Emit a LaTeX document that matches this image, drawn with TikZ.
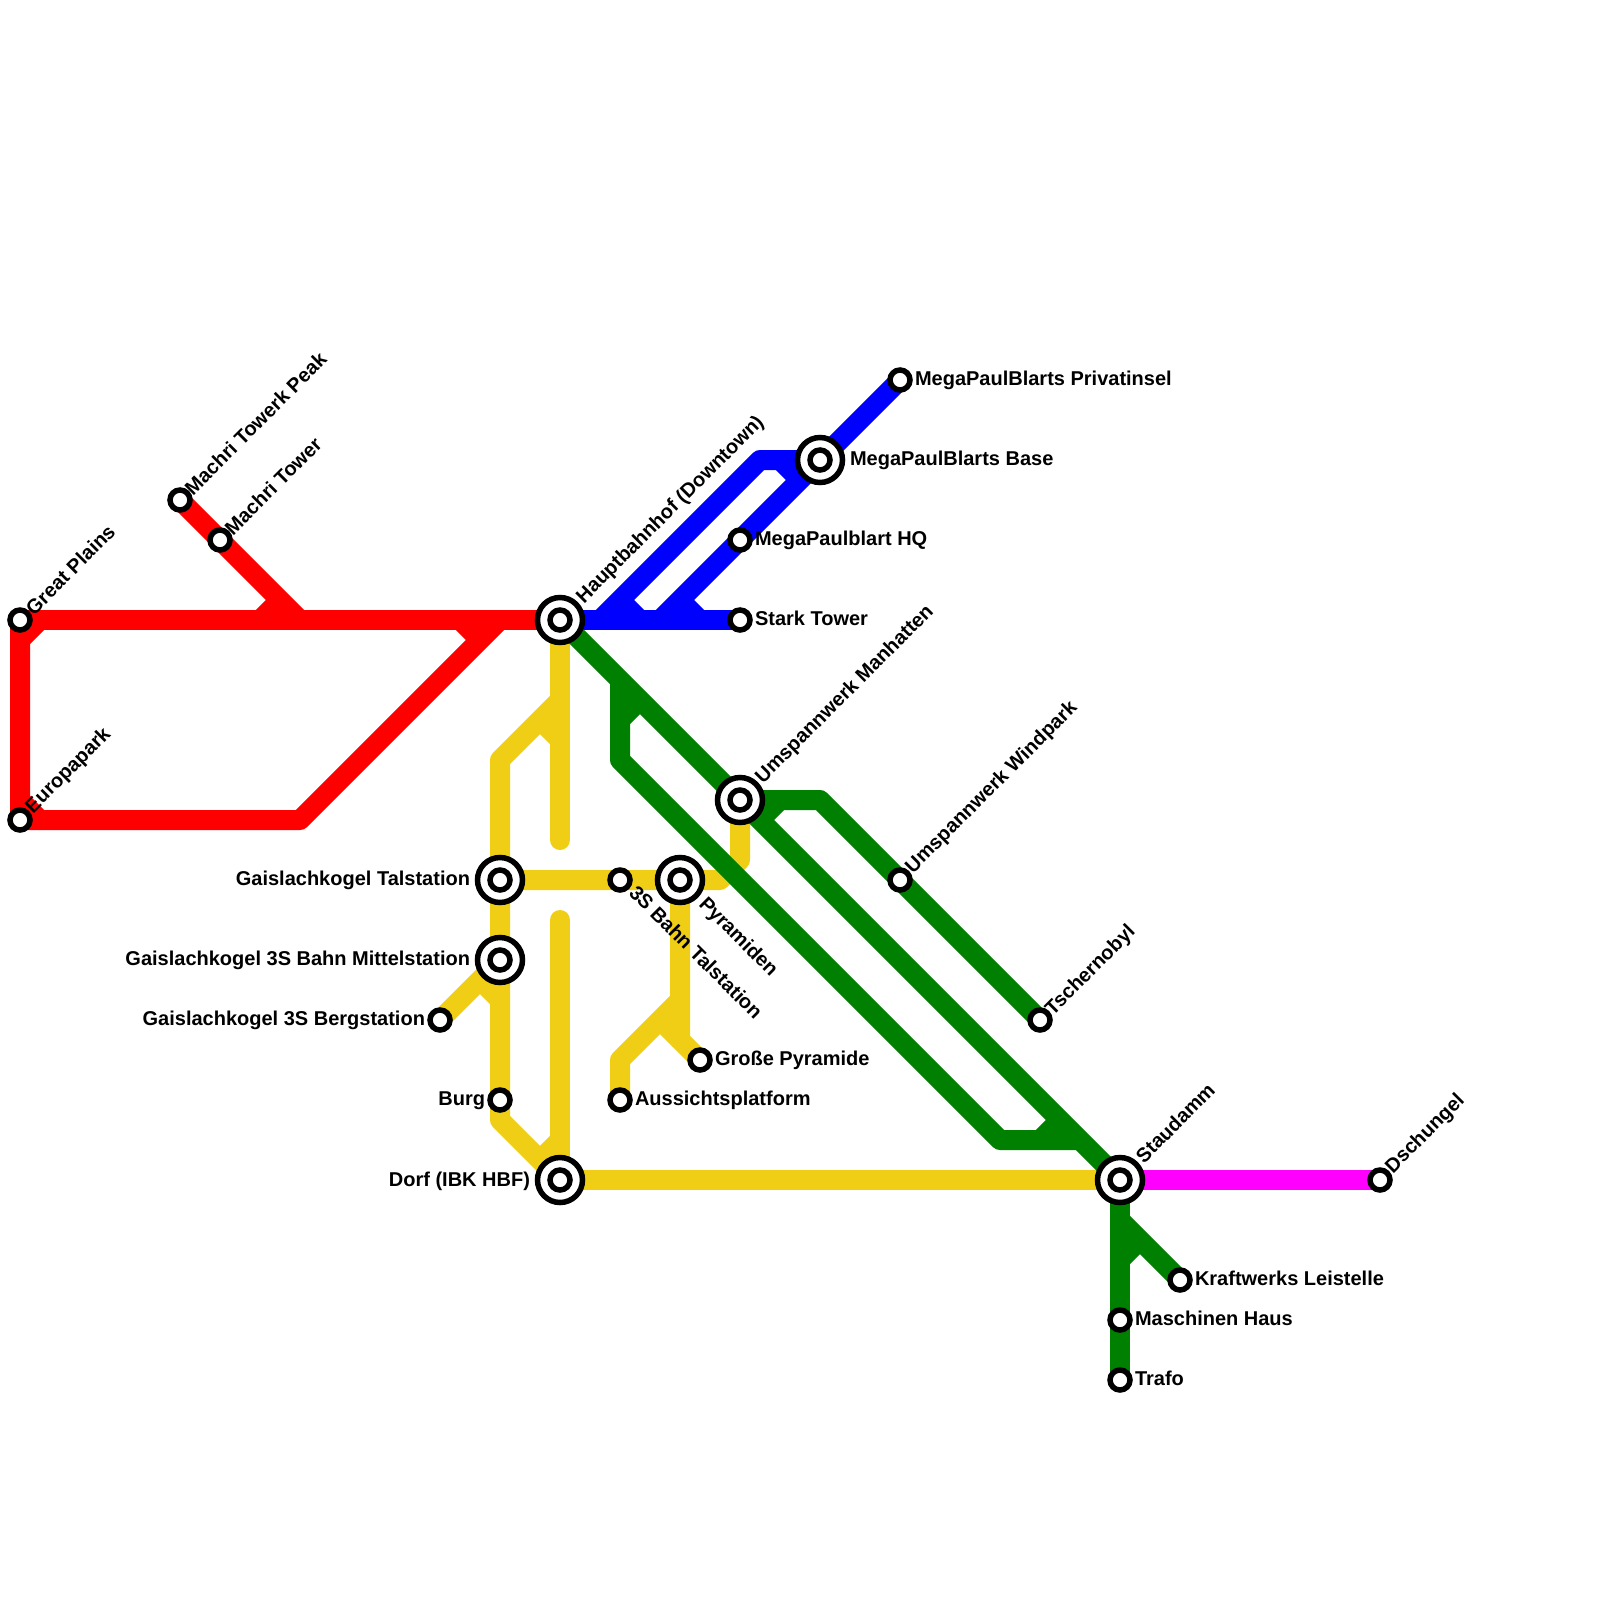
\documentclass[tikz,border=0pt]{standalone}
\usepackage{fontspec}
\setmainfont{Liberation Sans}
\usetikzlibrary{backgrounds}
\tikzset{
  stn/.style={circle,draw=black,fill=white,line width=5.5pt,minimum size=20pt,inner sep=0pt,outer sep=0pt},
  hubring/.style={circle,draw=black,fill=white,line width=5.5pt,minimum size=45pt,inner sep=0pt,outer sep=0pt},
  route/.style={line width=20pt,line join=round},
  roundend/.style={route,line cap=round},
  lbl/.style={inner sep=0pt,outer sep=0pt,text=black,font=\fontsize{20}{24}\selectfont\bfseries},
  lr/.style={lbl,anchor=base west},
  ll/.style={lbl,anchor=base east},
  lu/.style={lbl,anchor=base west,rotate=45},
  ld/.style={lbl,anchor=base west,rotate=-45},
}
\definecolor{mred}{RGB}{255,0,0}
\definecolor{mblue}{RGB}{0,0,255}
\definecolor{mgreen}{RGB}{0,128,0}
\definecolor{myellow}{RGB}{240,206,21}
\definecolor{mpink}{RGB}{255,0,255}
\begin{document}
\begin{tikzpicture}[x=1pt,y=-1pt]
\useasboundingbox (0,0) rectangle (1600,1600);
% stations
\node[stn] (gp) at (20,620) {};
\node[stn] (ep) at (20,820) {};
\node[stn] (mp) at (180,500) {};
\node[stn] (mt) at (220,540) {};
\node[hubring] (hb) at (560,620) {}; \node[stn] (hbc) at (560,620) {};
\node[stn] (st) at (740,620) {};
\node[stn] (hq) at (740,540) {};
\node[hubring] (mb) at (820,460) {}; \node[stn] (mbc) at (820,460) {};
\node[stn] (pi) at (900,380) {};
\node[hubring] (um) at (740,800) {}; \node[stn] (umc) at (740,800) {};
\node[stn] (wp) at (900,880) {};
\node[stn] (ts) at (1040,1020) {};
\node[hubring] (sd) at (1120,1180) {}; \node[stn] (sdc) at (1120,1180) {};
\node[stn] (ds) at (1380,1180) {};
\node[stn] (kw) at (1180,1280) {};
\node[stn] (mh) at (1120,1320) {};
\node[stn] (tr) at (1120,1380) {};
\node[hubring] (df) at (560,1180) {}; \node[stn] (dfc) at (560,1180) {};
\node[stn] (bu) at (500,1100) {};
\node[stn] (au) at (620,1100) {};
\node[stn] (gr) at (700,1060) {};
\node[hubring] (py) at (680,880) {}; \node[stn] (pyc) at (680,880) {};
\node[stn] (tb) at (620,880) {};
\node[hubring] (gt) at (500,880) {}; \node[stn] (gtc) at (500,880) {};
\node[hubring] (gm) at (500,960) {}; \node[stn] (gmc) at (500,960) {};
\node[stn] (gb) at (440,1020) {};
% bends and junction points
\coordinate (r1) at (300,620); \coordinate (r2) at (280,600); \coordinate (r3) at (260,620);
\coordinate (r4) at (40,620); \coordinate (r5) at (20,640);
\coordinate (r6) at (20,800); \coordinate (r7) at (40,820);
\coordinate (r8) at (300,820); \coordinate (r9) at (500,620);
\coordinate (r10) at (460,620); \coordinate (r11) at (480,640);
\coordinate (b1) at (600,620); \coordinate (b2) at (760,460);
\coordinate (b3) at (660,620); \coordinate (b4) at (620,600); \coordinate (b5) at (640,620);
\coordinate (b6) at (680,600); \coordinate (b7) at (700,620);
\coordinate (b8) at (780,460); \coordinate (b9) at (800,480);
\coordinate (g1) at (620,680); \coordinate (g2) at (620,760); \coordinate (g3) at (1000,1140);
\coordinate (g4) at (1080,1140); \coordinate (g5) at (620,720); \coordinate (g6) at (640,700);
\coordinate (g7) at (820,800); \coordinate (g8) at (780,800); \coordinate (g9) at (760,820);
\coordinate (g10) at (1040,1140); \coordinate (g11) at (1060,1120);
\coordinate (g12) at (1120,1220); \coordinate (g13) at (1120,1260); \coordinate (g14) at (1140,1240);
\coordinate (y1) at (560,840); \coordinate (y2) at (560,700); \coordinate (y3) at (500,760);
\coordinate (y4) at (540,720); \coordinate (y5) at (560,740);
\coordinate (y6) at (720,880); \coordinate (y7) at (740,860);
\coordinate (y8) at (500,1120); \coordinate (y9) at (540,1160); \coordinate (y10) at (560,1140);
\coordinate (y11) at (560,920); \coordinate (y12) at (480,980); \coordinate (y13) at (500,1000);
\coordinate (y14) at (680,1040); \coordinate (y15) at (680,1000); \coordinate (y16) at (620,1060);
\coordinate (y17) at (660,1020);
\begin{scope}[on background layer]
  % red
  \draw[route,mred] (mp.center) -- (r1) ;
  \draw[route,mred] (r2) -- (r3);
  \draw[route,mred] (gp.center) -- (hb.center);
  \draw[route,mred] (r4) -- (r5);
  \draw[route,mred] (gp.center) -- (ep.center) -- (r8) -- (r9);
  \draw[route,mred] (r6) -- (r7);
  \draw[route,mred] (r10) -- (r11);
  % blue
  \draw[route,mblue] (hb.center) -- (st.center);
  \draw[route,mblue] (b1) -- (b2) -- (mb.center);
  \draw[route,mblue] (b3) -- (hq.center) -- (mb.center) -- (pi.center);
  \draw[route,mblue] (b4) -- (b5);
  \draw[route,mblue] (b6) -- (b7);
  \draw[route,mblue] (b8) -- (b9);
  % magenta
  \draw[route,mpink] (sd.center) -- (ds.center);
  % yellow
  \draw[roundend,myellow] (hb.center) -- (y1);
  \draw[route,myellow] (y2) -- (y3) -- (gt.center);
  \draw[route,myellow] (y4) -- (y5);
  \draw[route,myellow] (gt.center) -- (y6) -- (y7) -- (um.center);
  \draw[route,myellow] (gt.center) -- (gm.center) -- (bu.center) -- (y8) -- (df.center);
  \draw[route,myellow] (y9) -- (y10);
  \draw[roundend,myellow] (y11) -- (df.center);
  \draw[route,myellow] (gb.center) -- (gm.center);
  \draw[route,myellow] (y12) -- (y13);
  \draw[route,myellow] (py.center) -- (y14) -- (gr.center);
  \draw[route,myellow] (y15) -- (y16) -- (au.center);
  \draw[route,myellow] (y17) -- (y14);
  \draw[route,myellow] (df.center) -- (sd.center);
  % green
  \draw[route,mgreen] (hb.center) -- (um.center) -- (sd.center);
  \draw[route,mgreen] (g1) -- (g2) -- (g3) -- (g4);
  \draw[route,mgreen] (g5) -- (g6);
  \draw[route,mgreen] (um.center) -- (g7) -- (wp.center) -- (ts.center);
  \draw[route,mgreen] (g8) -- (g9);
  \draw[route,mgreen] (g10) -- (g11);
  \draw[route,mgreen] (sd.center) -- (mh.center) -- (tr.center);
  \draw[route,mgreen] (g12) -- (kw.center);
  \draw[route,mgreen] (g13) -- (g14);
\end{scope}
% labels
\node[lu] (lgp) at (34,616) {Great Plains};
\node[lu] (lep) at (33,814) {Europapark};
\node[lu] (lmp) at (193,496) {Machri Towerk Peak};
\node[lu] (lmt) at (233,536) {Machri Tower};
\node[lu] (lhb) at (584,604) {Hauptbahnhof (Downtown)};
\node[lu] (lum) at (763,784) {Umspannwerk Manhatten};
\node[lu] (lwp) at (913,874) {Umspannwerk Windpark};
\node[lu] (lts) at (1053,1016) {Tschernobyl};
\node[lu] (lsd) at (1144,1164) {Staudamm};
\node[lu] (lds) at (1393,1174) {Dschungel};
\node[ld] (ltb) at (628,894) {3S Bahn Talstation};
\node[ld] (lpy) at (698,905) {Pyramiden};
\node[lr] (lpi) at (915,385) {MegaPaulBlarts Privatinsel};
\node[lr] (lmb) at (850,465) {MegaPaulBlarts Base};
\node[lr] (lhq) at (755,545) {MegaPaulblart HQ};
\node[lr] (lst) at (755,625) {Stark Tower};
\node[lr] (lgr) at (715,1065) {Große Pyramide};
\node[lr] (lau) at (635,1105) {Aussichtsplatform};
\node[lr] (lkw) at (1195,1285) {Kraftwerks Leistelle};
\node[lr] (lmh) at (1135,1325) {Maschinen Haus};
\node[lr] (ltr) at (1135,1385) {Trafo};
\node[ll] (lgt) at (470,885) {Gaislachkogel Talstation};
\node[ll] (lgm) at (470,965) {Gaislachkogel 3S Bahn Mittelstation};
\node[ll] (lgb) at (425,1025) {Gaislachkogel 3S Bergstation};
\node[ll] (lbu) at (485,1105) {Burg};
\node[ll] (ldf) at (530,1186) {Dorf (IBK HBF)};
\end{tikzpicture}
\end{document}
